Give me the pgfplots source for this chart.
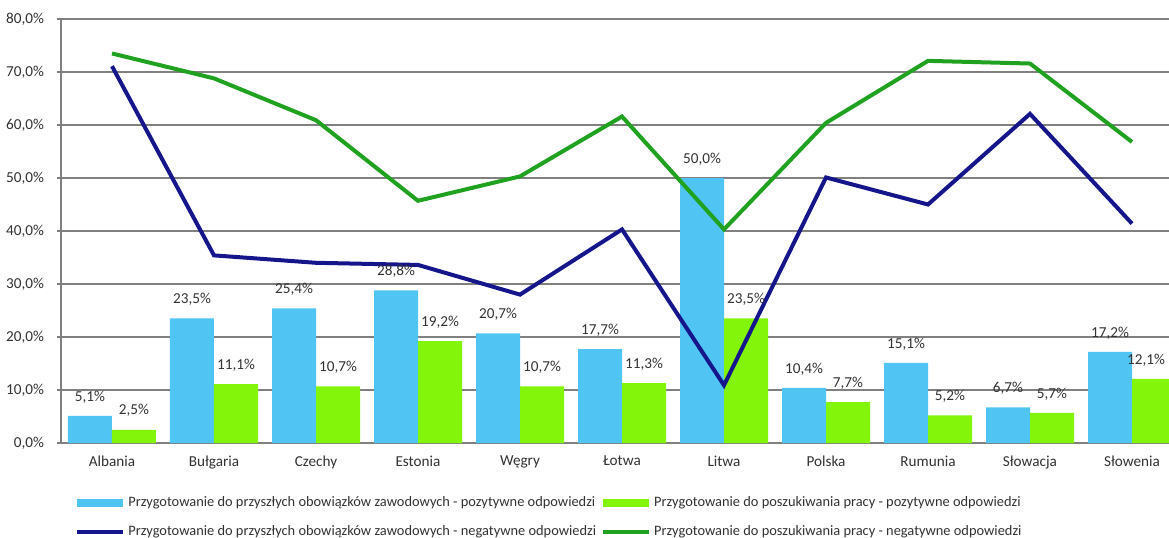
\documentclass[border=0pt]{standalone}
\usepackage{fontspec}
\setmainfont{Carlito}
\usepackage{pgfplots}
\pgfplotsset{compat=1.18}
\usepackage{pgfplotstable}
\definecolor{barblue}{RGB}{80,196,242}
\definecolor{barlime}{RGB}{130,245,10}
\definecolor{navyline}{RGB}{22,22,140}
\definecolor{greenline}{RGB}{32,162,32}
\definecolor{gridgray}{RGB}{128,128,128}
\definecolor{txt}{RGB}{50,50,50}
\newcommand\chf{\fontsize{7.6bp}{9bp}\selectfont}
\newcommand\lgf{\fontsize{7.2bp}{9bp}\selectfont}
\pgfplotstableread{
x posbl posgr negbl neggr gshift
0 5.1 2.5 71.1 73.5 11
1 23.5 11.1 35.4 68.8 11
2 25.4 10.7 34.0 60.9 11
3 28.8 19.2 33.6 45.7 11
4 20.7 10.7 28.0 50.3 11
5 17.7 11.3 40.3 61.6 11
6 50.0 23.5 10.9 40.3 11
7 10.4 7.7 50.1 60.4 11
8 15.1 5.2 45.0 72.1 11
9 6.7 5.7 62.1 71.6 11
10 17.2 12.1 41.4 56.8 7
}\data
\begin{document}
\begin{tikzpicture}
\begin{axis}[
  at={(0,0)}, anchor=south west,
  scale only axis, width=561bp, height=212bp,
  xmin=-0.5, xmax=10.5, ymin=0, ymax=80,
  axis x line*=bottom, axis y line*=left,
  axis line style={draw=gridgray, line width=1bp, -},
  ytick={0,10,...,80},
  ymajorgrids, grid style={draw=gridgray, line width=1bp},
  major tick style={draw=gridgray, line width=1bp},
  tick align=outside, major tick length=2bp,
  /pgf/number format/assume math mode=true,
  yticklabel={\pgfmathprintnumber[fixed,fixed zerofill,precision=1,use comma]{\tick}\%},
  yticklabel style={font=\chf, text=txt, xshift=-3bp},
  xtick={0,...,10},
  xticklabels={Albania,Bułgaria,Czechy,Estonia,Węgry,Łotwa,Litwa,Polska,Rumunia,Słowacja,Słowenia},
  xticklabel style={font=\chf, text=txt, yshift=-1bp},
  x tick style={draw=none},
  extra x ticks={-0.5,0.5,...,10.5},
  extra x tick labels={},
  extra x tick style={major tick length=2bp, tick style={draw=gridgray, line width=1bp}, grid=none},
  legend columns=2,
  legend style={at={(0,0)}, anchor=north west, xshift=7bp, yshift=-25bp,
    draw=none, fill=none, font=\lgf, text=txt, inner sep=0pt,
    nodes={inner sep=1.5bp}, row sep=5bp,
    /tikz/every even column/.append style={column sep=1bp}},
  legend cell align=left,
]
\addplot[ybar, bar width=22bp, bar shift=-11bp, fill=barblue, draw=none,
  point meta=y,
  nodes near coords={\pgfmathprintnumber[fixed,fixed zerofill,precision=1,use comma]{\pgfplotspointmeta}\%},
  nodes near coords style={font=\chf, text=txt, anchor=center, yshift=9.5bp, xshift=-11bp},
  legend image code/.code={\fill[barblue] (0bp,-2bp) rectangle (23bp,2bp);}]
  table[x=x, y=posbl]{\data};
\addlegendentry{Przygotowanie do przyszłych obowiązków zawodowych - pozytywne odpowiedzi}
\addplot[ybar, bar width=22bp, bar shift=11bp, fill=barlime, draw=none,
  point meta=y,
  visualization depends on={\thisrow{gshift} \as \gsh},
  nodes near coords={\pgfmathprintnumber[fixed,fixed zerofill,precision=1,use comma]{\pgfplotspointmeta}\%},
  nodes near coords style={font=\chf, text=txt, anchor=center, yshift=9.5bp, xshift=\gsh bp},
  legend image code/.code={\fill[barlime] (0bp,-2bp) rectangle (23bp,2bp);}]
  table[x=x, y=posgr]{\data};
\addlegendentry{Przygotowanie do poszukiwania pracy - pozytywne odpowiedzi}
\addplot[sharp plot, no marks, draw=navyline, line width=2bp,
  legend image code/.code={\draw[navyline, line width=2bp] (0bp,0bp) -- (23bp,0bp);}]
  table[x=x, y=negbl]{\data};
\addlegendentry{Przygotowanie do przyszłych obowiązków zawodowych - negatywne odpowiedzi}
\addplot[sharp plot, no marks, draw=greenline, line width=2bp,
  legend image code/.code={\draw[greenline, line width=2bp] (0bp,0bp) -- (23bp,0bp);}]
  table[x=x, y=neggr]{\data};
\addlegendentry{Przygotowanie do poszukiwania pracy - negatywne odpowiedzi}
\end{axis}
\pgfresetboundingbox
\path[use as bounding box] (-30.5bp,-47.5bp) rectangle (554bp,221.5bp);
\end{tikzpicture}
\end{document}
